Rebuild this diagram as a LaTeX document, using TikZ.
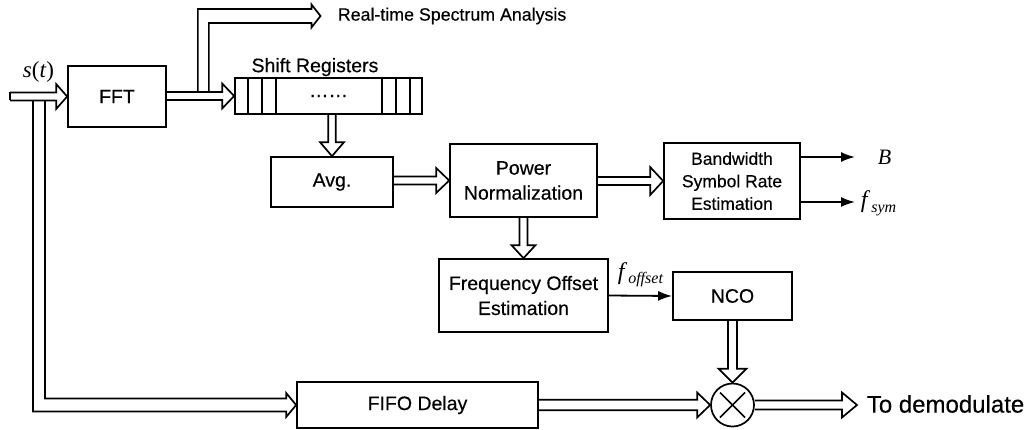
\documentclass[tikz,border=0pt]{standalone}
\usepackage{fontspec}
\setmainfont{Liberation Sans}[FakeBold=0.35]
\newfontfamily\tnr{Liberation Serif}
\usetikzlibrary{calc,arrows.meta}
% fat (hollow) arrow to the right: from, to, tube half width, head half width, head length
\newcommand{\fatR}[5]{\draw[fat] let \p1=(#1), \p2=(#2) in (\x1,\y2+#3) -- (\x2-#5,\y2+#3) -- (\x2-#5,\y2+#4) -- (\x2,\y2) -- (\x2-#5,\y2-#4) -- (\x2-#5,\y2-#3) -- (\x1,\y2-#3);}
% fat (hollow) arrow downwards
\newcommand{\fatD}[5]{\draw[fat] let \p1=(#1), \p2=(#2) in (\x2-#3,\y1) -- (\x2-#3,\y2+#5) -- (\x2-#4,\y2+#5) -- (\x2,\y2) -- (\x2+#4,\y2+#5) -- (\x2+#3,\y2+#5) -- (\x2+#3,\y1);}
\begin{document}
\begin{tikzpicture}[x=1pt,y=-1pt,line width=1.7pt,
  box/.style={draw,rectangle,inner sep=0pt,align=center,font=\fontsize{19.5}{25}\selectfont},
  fat/.style={line width=1.7pt},
  sig/.style={line width=1.8pt,-{Latex[length=14pt,width=10pt]}},
  mathlbl/.style={inner sep=0pt,font=\tnr\fontsize{23}{23}\selectfont},
  plain/.style={inner sep=0pt}]
\useasboundingbox (0,0) rectangle (1029,429);

% blocks
\node[box,minimum width=98pt,minimum height=61pt] (fft) at (117,96.5) {FFT};
\node[box,minimum width=187pt,minimum height=36pt] (reg) at (328.5,96) {};
\node[plain,font=\fontsize{19.5}{22}\selectfont] (dots) at (reg.center) {……};
\node[plain,anchor=base,font=\fontsize{19.5}{22}\selectfont] (reglbl) at ($(reg.north)+(-13.5,-5)$) {Shift Registers};
\node[box,minimum width=122pt,minimum height=50pt] (avg) at (332,182) {Avg.};
\node[box,minimum width=147pt,minimum height=73pt] (pn) at (523.5,180.5) {Power\\Normalization};
\node[box,minimum width=136pt,minimum height=76pt,font=\fontsize{17.5}{22.5}\selectfont] (bw) at (732,181) {Bandwidth\\Symbol Rate\\Estimation};
\node[box,minimum width=169pt,minimum height=73pt] (foe) at (523.5,295.5) {Frequency Offset\\Estimation};
\node[box,minimum width=119pt,minimum height=48pt] (nco) at (732.5,296) {NCO};
\node[box,minimum width=241pt,minimum height=46pt] (fifo) at (417.5,405) {FIFO Delay};
\node[draw,circle,minimum size=43pt,inner sep=0pt] (mx) at (732.5,405) {};
\draw[line width=1.5pt] ($(mx.center)+(-12.5,-12.5)$) -- ($(mx.center)+(12.5,12.5)$);
\draw[line width=1.5pt] ($(mx.center)+(-12.5,12.5)$) -- ($(mx.center)+(12.5,-12.5)$);

% register cells
\foreach \d in {14,28,42} {
  \draw ($(reg.north west)+(\d,0)$) -- ($(reg.south west)+(\d,0)$);
  \draw ($(reg.north east)+(-\d+1,0)$) -- ($(reg.south east)+(-\d+1,0)$);
}

% free ends
\coordinate (in) at (10,96);
\coordinate (rt) at (320.5,16);
\coordinate (Bt) at (855,157);
\coordinate (St) at (855,202);
\coordinate (outt) at (857,405);

% labels
\node[mathlbl,anchor=base] (st) at (38.5,77) {\textit{s}(\textit{t})};
\node[plain,anchor=west,font=\fontsize{17.8}{20}\selectfont] (rtlbl) at ($(rt)+(16.5,0)$) {Real-time Spectrum Analysis};
\node[mathlbl,anchor=base west,font=\tnr\fontsize{22}{22}\selectfont] (Blbl) at (877,164) {\textit{B}};
\node[mathlbl,anchor=base west,font=\tnr\fontsize{24}{24}\selectfont] (fsym) at (860,207) {\textit{f}\kern1pt\raisebox{-5pt}{\fontsize{16}{16}\selectfont\textit{sym}}};
\node[mathlbl,anchor=base west,font=\tnr\fontsize{24}{24}\selectfont] (foff) at (617,279) {\textit{f}\kern1pt\raisebox{-4pt}{\fontsize{16}{16}\selectfont\textit{offset}}};
\node[plain,anchor=west,font=\fontsize{24}{26}\selectfont] (demod) at (866,404) {To demodulate};

% input arrow s(t) -> FFT (closed tail)
\fatR{in}{fft.west}{4pt}{12.5pt}{11pt}
\draw[fat] ($(in)+(0,-4)$) -- ($(in)+(0,4)$);
% branch of s(t) down to FIFO Delay
\draw[fat] let \p1=(in), \p2=(fifo.west) in
  (\x1+35pt,\y1-4pt) -- (\x1+35pt,\y2+6.5pt) -- (\x2-10pt,\y2+6.5pt) -- (\x2-10pt,\y2+12pt) -- (\x2,\y2)
  -- (\x2-10pt,\y2-12pt) -- (\x2-10pt,\y2-6.5pt) -- (\x1+23pt,\y2-6.5pt) -- (\x1+23pt,\y1-4pt);

% FFT -> shift registers
\fatR{fft.east}{reg.west}{4pt}{12.5pt}{12pt}
% branch up to real-time spectrum analysis
\draw[fat] let \p1=(fft.east), \p2=(rt) in
  (\x1+31pt,\y1+4pt) -- (\x1+31pt,\y2+7pt) -- (\x2-9pt,\y2+7pt) -- (\x2-9pt,\y2+11.5pt) -- (\x2,\y2)
  -- (\x2-9pt,\y2-11.5pt) -- (\x2-9pt,\y2-7pt) -- (\x1+42pt,\y2-7pt) -- (\x1+42pt,\y1+4pt);

\fatD{reg.south}{avg.north}{3.75pt}{12pt}{14pt}
\fatR{avg.east}{pn.west}{4pt}{12.5pt}{13pt}
\fatR{pn.east}{bw.west}{4pt}{14pt}{13pt}
\fatD{pn.south}{foe.north}{4pt}{12pt}{13pt}
\fatD{nco.south}{mx.north}{4.5pt}{14pt}{14pt}
\fatR{fifo.east}{mx.west}{5.25pt}{12.5pt}{13pt}
\fatR{mx.east}{outt}{4.5pt}{12.5pt}{15pt}

% thin signal arrows
\draw[sig] (foe.east) -- (nco.west);
\draw[sig] ($(bw.east)+(0,-24)$) -- (Bt);
\draw[sig] ($(bw.east)+(0,21)$) -- (St);
\end{tikzpicture}
\end{document}
